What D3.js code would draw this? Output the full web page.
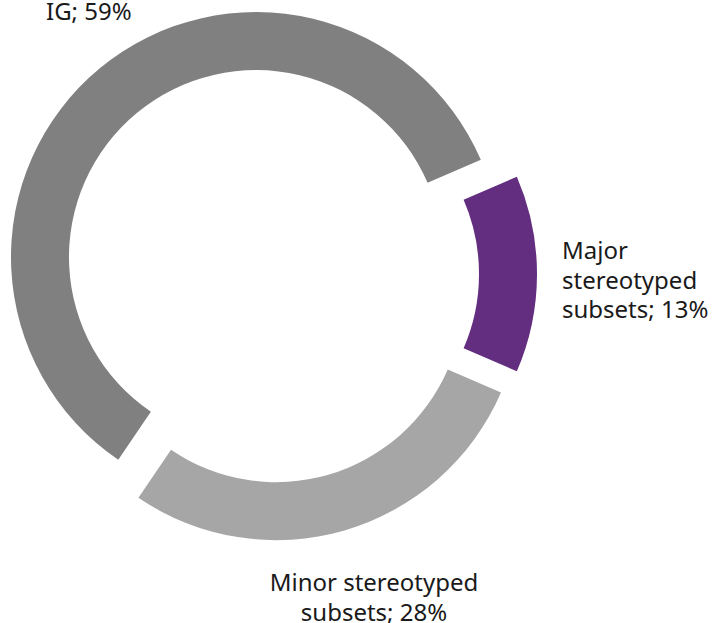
<!DOCTYPE html>
<html>
<head>
<meta charset="utf-8">
<script src="https://cdn.jsdelivr.net/npm/d3@7"></script>
<style>
  html, body { margin: 0; padding: 0; background: #fff; }
  svg { display: block; }
  text { font-family: "Noto Sans", Lato, sans-serif; fill: #1a1a1a; }
</style>
</head>
<body>
<svg id="chart" width="712" height="623"></svg>
<script>
// Data
const categories = ["Major stereotyped subsets", "Minor stereotyped subsets", "IG"];
const values = [13, 28, 59];
const colors = ["#632e80", "#a6a6a6", "#808080"];
const labelLines = [
  ["Major", "stereotyped", "subsets; 13%"],
  ["Minor stereotyped", "subsets; 28%"],
  ["IG; 59%"]
];

const W = 712, H = 623;
const cx = 270, cy = 274;
const outerR = 245, innerR = 187;
const explode = 22;

const svg = d3.select("#chart");
const g = svg.append("g").attr("transform", `translate(${cx},${cy})`);

const total = d3.sum(values);
const start = Math.PI / 2 - (values[0] / total) * Math.PI; // first slice centred at 3 o'clock
const pie = d3.pie().sort(null).value(d => d).startAngle(start).endAngle(start + 2 * Math.PI);
const arcs = pie(values);
const arc = d3.arc().innerRadius(innerR).outerRadius(outerR);

g.selectAll("path.slice")
  .data(arcs)
  .join("path")
  .attr("class", "slice")
  .attr("fill", (d, i) => colors[i])
  .attr("transform", d => {
    const a = (d.startAngle + d.endAngle) / 2;
    return `translate(${explode * Math.sin(a)},${-explode * Math.cos(a)})`;
  })
  .attr("d", arc);

// Labels
const fs = 24;
const lh = 29.5;
const labelSpecs = [
  { x: 562, y: 259, anchor: "start" },
  { x: 374, y: 591, anchor: "middle" },
  { x: 46, y: 20, anchor: "start" }
];
labelSpecs.forEach((s, i) => {
  const t = svg.append("text")
    .attr("x", s.x).attr("y", s.y)
    .attr("text-anchor", s.anchor)
    .attr("font-size", fs);
  labelLines[i].forEach((line, j) => {
    t.append("tspan").attr("x", s.x).attr("dy", j === 0 ? 0 : lh).text(line);
  });
});
</script>
</body>
</html>
